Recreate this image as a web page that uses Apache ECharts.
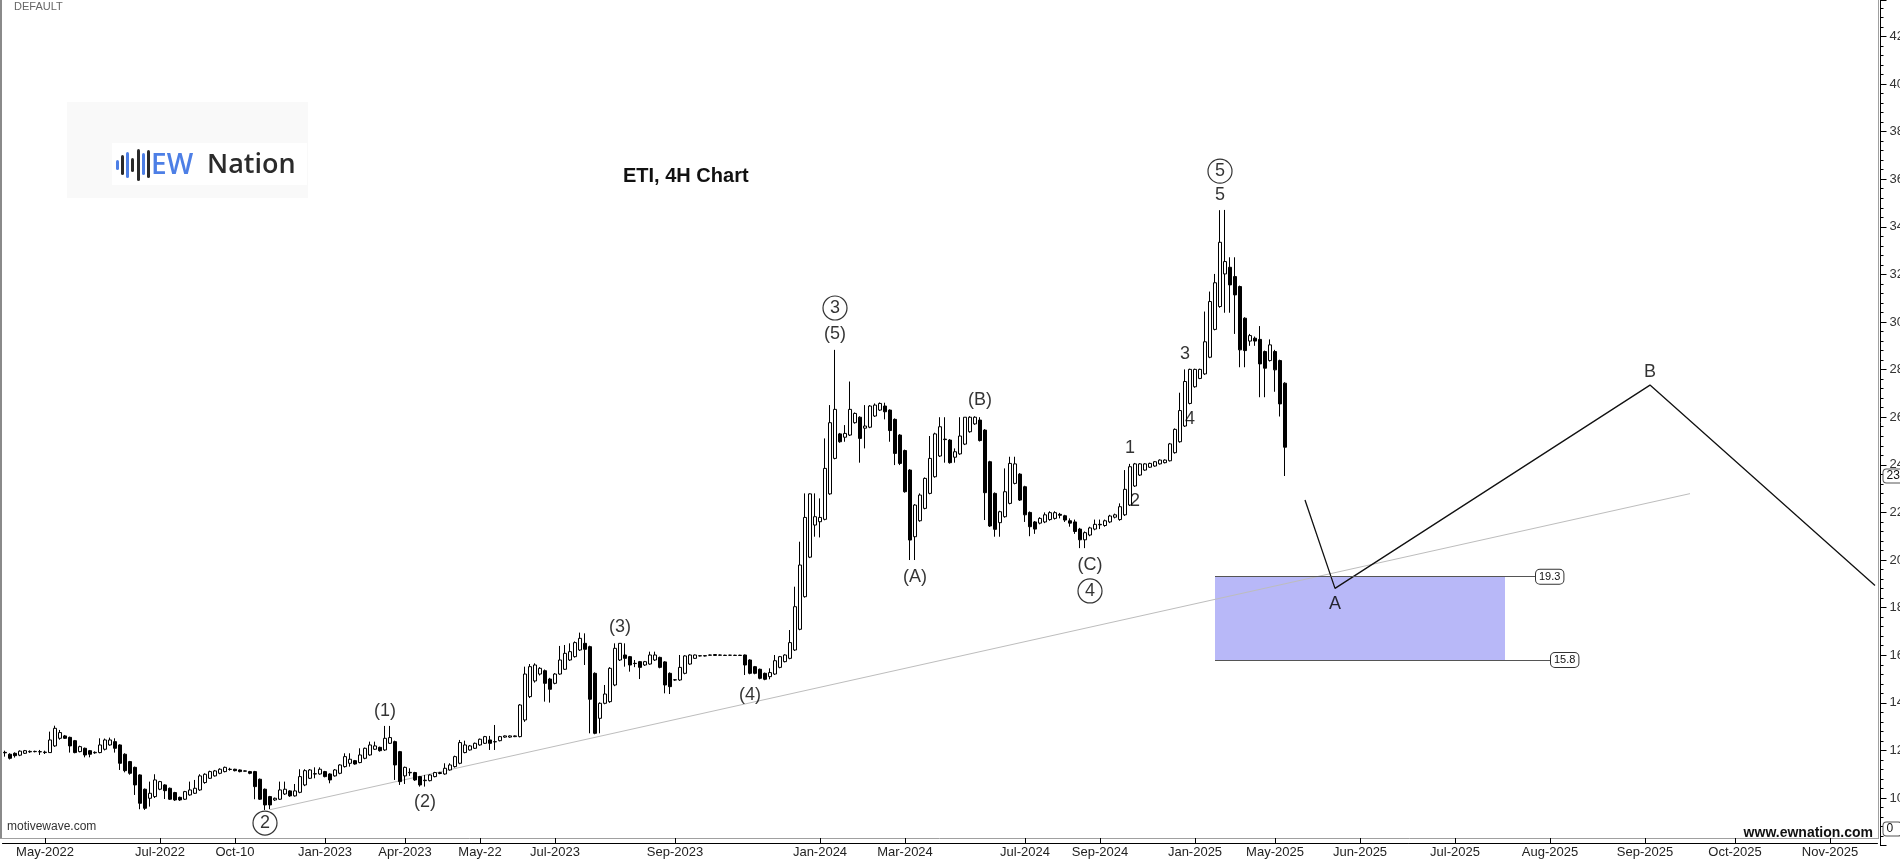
<!DOCTYPE html>
<html>
<head>
<meta charset="utf-8">
<script src="https://cdn.jsdelivr.net/npm/echarts@6/dist/echarts.min.js"></script>
<style>
html,body{margin:0;padding:0;background:#fff;}
#chart{width:1900px;height:860px;}
</style>
</head>
<body>
<div id="chart"></div>
<script>
// ---------- DATA ----------
// candles: [open, close, low, high], one per bar slot
const ohlc = [
[11.92,11.9,11.74,11.99],[11.84,11.67,11.62,11.88],[11.88,11.78,11.70,11.92],[11.80,11.97,11.76,12.0],
[11.88,11.99,11.85,12.02],[11.94,11.96,11.9,12.0],[11.95,11.96,11.92,11.99],[11.95,11.94,11.81,12.02],
[11.91,11.93,11.85,11.99],[11.91,12.44,11.9,12.79],[12.19,12.93,12.15,13.04],[12.51,12.75,12.45,12.86],
[12.61,12.51,12.48,12.65],[12.55,12.19,11.91,12.58],[12.41,11.91,11.88,12.44],[11.95,12.16,11.92,12.2],
[12.09,11.81,11.71,12.12],[11.99,11.84,11.71,12.02],[11.9,11.92,11.86,11.96],[11.91,12.23,11.88,12.51],
[12.05,12.44,12.0,12.5],[12.23,12.44,12.2,12.54],[12.37,12.09,11.91,12.51],[12.23,11.46,11.18,12.26],
[11.84,11.15,11.08,11.88],[11.53,11.04,10.98,11.56],[11.29,10.55,10.13,11.32],[10.97,9.78,9.53,11.0],
[10.37,9.57,9.5,10.4],[9.99,10.2,9.64,10.69],[10.06,10.76,10.0,11.0],[10.37,10.69,10.33,10.72],
[10.55,10.31,9.96,10.58],[10.41,9.95,9.92,10.44],[10.23,9.92,9.88,10.26],[10.03,9.92,9.88,10.06],
[9.95,10.27,9.92,10.3],[10.13,10.34,10.1,10.69],[10.2,10.41,10.17,10.76],[10.34,10.93,10.3,11.0],
[10.65,11.0,10.6,11.04],[10.83,11.11,10.8,11.15],[10.93,11.14,10.9,11.18],[11.04,11.21,11.0,11.25],
[11.11,11.29,11.08,11.32],[11.2,11.21,11.15,11.27],[11.21,11.15,11.12,11.23],[11.18,11.11,11.08,11.2],
[11.14,11.13,11.12,11.16],[11.11,11.04,11.0,11.14],[11.11,10.48,9.95,11.14],[10.79,9.95,9.92,10.82],
[10.37,9.71,9.5,10.4],[10.06,9.71,9.53,10.09],[9.92,9.99,9.88,10.02],[9.95,10.34,9.92,10.69],
[10.17,10.37,10.13,10.69],[10.3,10.09,10.05,10.33],[10.09,10.3,10.06,10.59],[10.24,10.9,10.2,11.21],
[10.55,11.15,10.5,11.21],[10.83,11.18,10.8,11.22],[11.02,11.01,10.83,11.29],[11.01,11.21,10.98,11.29],
[11.11,10.9,10.87,11.14],[11.01,10.76,10.62,11.04],[10.93,11.18,10.9,11.22],[11.04,11.39,11.0,11.42],
[11.32,11.74,11.28,11.88],[11.46,11.63,11.32,11.88],[11.57,11.43,11.4,11.6],[11.49,11.81,11.46,12.09],
[11.67,12.09,11.63,12.12],[11.81,12.23,11.78,12.37],[12.05,12.19,12.02,12.37],[12.13,11.99,11.95,12.16],
[12.02,12.51,11.98,13.03],[12.3,12.54,12.27,13.03],[12.37,11.39,10.76,12.41],[11.95,10.69,10.55,11.98],
[10.93,11.29,10.59,11.32],[11.06,11.08,10.93,11.25],[11.07,10.76,10.72,11.1],[10.9,10.55,10.48,10.93],
[10.73,10.75,10.48,10.97],[10.73,10.97,10.7,11.0],[10.9,11.07,10.87,11.1],[11.03,11.07,11.0,11.1],
[11.01,11.25,10.98,11.46],[11.18,11.39,11.15,11.46],[11.32,11.74,11.28,11.78],[11.46,12.33,11.42,12.44],
[11.91,12.23,11.88,12.41],[12.02,12.19,11.99,12.23],[12.09,12.3,12.06,12.33],[12.23,12.47,12.2,12.5],
[12.3,12.58,12.27,12.61],[12.44,12.3,12.02,12.61],[12.37,12.36,12.02,13.07],[12.41,12.58,12.38,12.61],
[12.56,12.61,12.53,12.63],[12.56,12.61,12.53,12.63],[12.58,12.61,12.56,12.63],[12.58,13.91,12.55,13.95],
[13.28,15.21,13.2,15.52],[14.26,15.52,14.2,15.63],[14.92,15.59,14.85,15.66],[15.21,15.45,15.15,15.5],
[15.35,14.82,14.05,15.4],[15.0,14.57,14.01,15.05],[14.82,15.21,14.78,15.25],[15.21,15.8,15.18,16.39],
[15.41,16.08,15.38,16.43],[15.8,16.15,15.76,16.5],[15.94,16.53,15.9,16.58],[16.22,16.71,16.18,16.95],
[16.5,16.25,15.59,16.92],[16.36,14.15,12.72,16.4],[15.24,12.72,12.68,15.28],[13.35,13.98,12.72,14.02],
[13.98,14.37,13.94,14.75],[14.05,15.45,14.0,15.5],[14.75,16.29,14.7,16.5],[15.8,16.5,15.76,16.5],
[16.01,15.87,15.52,16.5],[15.94,15.59,15.31,15.97],[15.66,15.65,15.5,15.8],[15.73,15.49,15.0,15.76],
[15.59,15.73,15.55,15.76],[15.63,16.01,15.6,16.15],[15.8,16.01,15.76,16.15],[15.91,15.49,15.45,15.94],
[15.72,14.75,14.4,15.75],[15.24,14.68,14.37,15.28],[14.96,14.97,14.93,15.0],[14.96,15.49,14.92,16.01],
[15.24,15.97,15.2,16.0],[15.63,16.01,15.6,16.04],[15.87,16.01,15.85,16.03],[15.97,15.98,15.95,16.0],
[15.98,15.97,15.95,16.0],[16.0,16.01,15.98,16.03],[15.99,16.03,15.97,16.05],[16.0,16.01,15.98,16.03],
[16.0,15.99,15.97,16.02],[16.0,16.0,15.98,16.02],[15.99,16.0,15.97,16.02],[16.0,15.99,15.97,16.02],
[16.01,15.59,15.17,16.03],[15.8,15.24,15.2,15.83],[15.52,15.24,15.2,15.55],[15.41,15.03,14.99,15.44],
[15.24,14.99,14.95,15.27],[15.1,15.27,14.99,15.45],[15.21,15.77,15.17,16.01],[15.49,15.94,15.45,15.97],
[15.73,16.01,15.7,16.04],[15.87,16.53,15.83,17.06],[16.22,18.04,16.18,18.88],[17.09,19.79,17.05,20.77],
[18.46,21.79,18.42,22.8],[20.12,22.78,20.08,22.8],[21.47,21.82,20.98,22.8],[21.61,21.79,20.95,22.59],
[21.71,23.85,21.67,25.11],[22.78,25.77,22.74,26.51],[24.27,26.33,24.23,28.83],[25.3,24.97,24.93,25.34],
[25.16,25.32,24.97,25.67],[25.25,26.33,25.21,27.5],[25.77,26.16,25.73,26.2],[26.0,25.11,24.09,26.04],
[25.54,25.63,24.69,26.51],[25.58,26.47,25.54,26.51],[26.05,26.51,26.01,26.58],[26.3,26.58,26.26,26.62],
[26.47,26.23,25.91,26.61],[26.3,25.44,24.97,26.33],[25.91,24.48,23.99,25.95],[25.25,24.06,23.99,25.29],
[24.6,22.87,22.83,24.64],[23.78,20.84,20.0,23.82],[20.98,22.31,20.0,22.35],[21.65,22.73,21.61,22.8],
[22.17,23.43,22.13,23.47],[22.8,24.27,22.76,25.21],[23.5,25.3,23.46,25.35],[24.37,25.6,24.33,26.0],
[25.08,25.06,24.09,26.0],[25.04,24.09,24.05,25.08],[24.32,24.55,24.09,24.69],[24.46,25.21,24.42,26.0],
[24.87,26.0,24.83,26.0],[25.39,26.0,25.35,26.04],[25.72,26.0,25.68,26.04],[25.88,25.02,24.98,26.0],
[25.46,22.83,21.68,25.5],[24.13,21.43,21.39,24.17],[22.8,21.29,20.98,22.84],[21.57,22.03,20.98,22.07],
[21.82,22.87,21.78,23.85],[22.38,24.06,22.34,24.34],[23.22,24.04,23.18,24.34],[23.61,22.52,22.48,23.65],
[23.08,21.9,21.6,23.12],[22.0,21.4,21.0,22.04],[21.6,21.3,21.1,21.64],[21.55,21.75,21.5,21.8],
[21.6,21.9,21.55,22.0],[21.7,21.99,21.65,22.05],[21.75,21.99,21.7,22.05],[21.92,21.88,21.75,21.98],
[21.86,21.68,21.6,21.9],[21.65,21.55,21.4,21.75],[21.6,21.2,21.1,21.7],[21.3,20.85,20.5,21.35],
[20.85,21.15,20.5,21.2],[21.05,21.35,21.0,21.4],[21.3,21.5,21.25,21.7],[21.5,21.48,21.3,21.7],
[21.45,21.65,21.4,21.7],[21.6,21.85,21.55,21.9],[21.8,21.9,21.75,21.95],[21.7,22.24,21.65,22.38],
[21.9,22.97,21.85,23.78],[22.31,23.92,22.27,24.04],[23.11,24.04,23.07,24.08],[23.57,24.04,23.53,24.07],
[23.78,24.04,23.75,24.07],[23.9,24.06,23.87,24.09],[23.95,24.13,23.92,24.16],[24.04,24.2,24.01,24.23],
[24.09,24.2,24.06,24.23],[24.17,24.88,24.14,24.92],[24.51,25.49,24.47,25.53],[24.97,26.28,24.93,27.03],
[25.63,27.5,25.59,28.01],[26.58,28.01,26.54,28.04],[27.28,28.01,27.24,28.04],[27.63,28.01,27.6,28.04],
[27.82,29.17,27.78,30.44],[28.52,30.86,28.48,31.28],[29.69,31.65,29.65,32.02],[30.65,33.35,30.6,34.7],
[32.02,32.54,30.39,34.71],[32.3,31.56,30.39,32.72],[31.91,31.14,29.5,32.72],[31.49,28.83,28.1,31.53],
[30.16,28.8,28.1,30.2],[29.2,29.43,29.0,29.5],[29.32,29.2,29.0,29.39],[29.27,28.24,26.84,29.83],
[28.76,28.06,26.84,28.8],[28.38,29.04,28.34,29.27],[28.76,27.99,27.07,28.83],[28.38,26.56,26.03,28.42],
[27.43,24.74,23.53,27.47]
];

const slotCount = 375;              // bar slots on the x axis (history + projection space)
const tickIdx = [8,31,46,64,80,95,110,134,163,180,204,219,238,254,271,290,309,328,346,365];
const tickLabels = ['May-2022','Jul-2022','Oct-10','Jan-2023','Apr-2023','May-22','Jul-2023','Sep-2023','Jan-2024','Mar-2024','Jul-2024','Sep-2024','Jan-2025','May-2025','Jun-2025','Jul-2025','Aug-2025','Sep-2025','Oct-2025','Nov-2025'];
const yMin = 8, yMax = 43.53, yStep = 2;

// wave labels
const waveText = ['(1)','(2)','(3)','(4)','(5)','(A)','(B)','(C)','1','2','3','4','5','A','B'];
const waveX    = [76,84,123,149,166,182,195,217,225,226,236,237,243,266,329];
const waveY    = [13.66,9.83,17.18,14.33,29.5,19.29,26.73,19.79,24.71,22.48,28.66,25.93,35.33,18.15,27.9];
const circText = ['2','3','4','5'];
const circX    = [52,166,217,243];
const circY    = [8.95,30.59,18.7,36.34];

// trend line & projection path
const trendX = [53,337];
const trendY = [9.51,22.79];
const projX = [260,266,329,374];
const projY = [22.52,18.81,27.35,18.93];

// target zone
const zoneX = [242,300];
const zoneTop = 19.3;
const zoneBottom = 15.8;
const zoneTopLineEnd = 306;
const zoneBottomLineEnd = 309;

// right axis price markers
const lastPrice = 23.53;
const volMarker = 8.7;
const lastPriceText = '23';
const volMarkerText = '0';

// ---------- CHART ----------
const FONT = '"Liberation Sans", Arial, sans-serif';
const categories = [];
for (let i = 0; i < slotCount; i++) categories.push('b' + i);
const labelMap = {};
tickIdx.forEach((k, j) => { labelMap[k] = tickLabels[j]; });
const isTick = (index) => labelMap[index] !== undefined;

const chart = echarts.init(document.getElementById('chart'), null, {renderer: 'canvas'});

const waveData = waveText.map((t, i) => ({value: [waveX[i], waveY[i]], name: t}));
const circData = circText.map((t, i) => ({value: [circX[i], circY[i]], name: t}));

const boxLabel = {
  show: true, position: 'end', distance: 1,
  backgroundColor: '#fff', borderColor: '#333', borderWidth: 1, borderRadius: 4,
  padding: [2, 3, 1, 3], fontSize: 11, color: '#111', fontFamily: FONT
};

const option = {
  animation: false,
  backgroundColor: '#fff',
  grid: {left: 2.5, right: 22.5, top: 0, bottom: 14.36, containLabel: false, outerBoundsMode: 'none'},
  xAxis: {
    type: 'category', data: categories, boundaryGap: true, position: 'bottom', offset: -2.64,
    axisLine: {show: true, lineStyle: {color: '#000', width: 1}},
    axisTick: {show: true, inside: true, length: 5, alignWithLabel: true, interval: (i) => isTick(i), lineStyle: {color: '#000'}},
    axisLabel: {interval: (i) => isTick(i), formatter: (v, i) => labelMap[i] || '', fontSize: 13, color: '#222', margin: 3, fontFamily: FONT},
    splitLine: {show: false}
  },
  yAxis: {
    type: 'value', position: 'right', min: yMin, max: yMax, interval: yStep, offset: 3,
    axisLine: {show: true, lineStyle: {color: '#000', width: 1}},
    axisTick: {show: true, length: 6, lineStyle: {color: '#000'}},
    minorTick: {show: true, splitNumber: 5, length: 3, lineStyle: {color: '#000'}},
    axisLabel: {fontSize: 13, color: '#333', margin: 9, fontFamily: FONT, showMinLabel: false, showMaxLabel: false},
    splitLine: {show: false}
  },
  graphic: [
    {type: 'rect', shape: {x: 0, y: 0, width: 2, height: 838}, style: {fill: '#8a8a8a'}, silent: true},
    {type: 'line', shape: {x1: 0, y1: 838.5, x2: 1879, y2: 838.5}, style: {stroke: '#a0a0a0', lineWidth: 1}, silent: true},
    {type: 'line', shape: {x1: 1878.5, y1: 0, x2: 1878.5, y2: 838}, style: {stroke: '#a0a0a0', lineWidth: 1}, silent: true},
    {type: 'text', left: 14, top: 1, style: {text: 'DEFAULT', fill: '#666', font: '11px ' + FONT}},
    {type: 'text', left: 623, top: 166, style: {text: 'ETI, 4H Chart', fill: '#111', font: 'bold 20px ' + FONT}},
    {type: 'text', left: 7, top: 821, style: {text: 'motivewave.com', fill: '#333', font: '12px ' + FONT}},
    {type: 'text', right: 27, top: 826, style: {text: 'www.ewnation.com', fill: '#111', font: 'bold 14px ' + FONT}},
    // logo
    {type: 'rect', shape: {x: 67, y: 102, width: 241, height: 96}, style: {fill: '#f9f9f9'}, silent: true},
    {type: 'rect', shape: {x: 112, y: 143, width: 195, height: 42}, style: {fill: '#ffffff'}, silent: true},
    {type: 'rect', shape: {x: 116, y: 160, width: 3, height: 10, r: 1.5}, style: {fill: '#4d7fe6'}},
    {type: 'rect', shape: {x: 121, y: 155, width: 3, height: 20, r: 1.5}, style: {fill: '#2a2a2a'}},
    {type: 'rect', shape: {x: 126, y: 152, width: 3, height: 26, r: 1.5}, style: {fill: '#4d7fe6'}},
    {type: 'rect', shape: {x: 131, y: 158, width: 3, height: 14, r: 1.5}, style: {fill: '#2a2a2a'}},
    {type: 'rect', shape: {x: 137, y: 149, width: 3, height: 32, r: 1.5}, style: {fill: '#2a2a2a'}},
    {type: 'rect', shape: {x: 142, y: 153, width: 3, height: 22, r: 1.5}, style: {fill: '#4d7fe6'}},
    {type: 'rect', shape: {x: 147, y: 150, width: 3, height: 28, r: 1.5}, style: {fill: '#2a2a2a'}},
    {type: 'text', left: 151, top: 152, style: {text: 'EW', fill: '#4d7fe6', font: '600 28px "Open Sans", ' + FONT}},
    {type: 'text', left: 207, top: 152, style: {text: 'Nation', fill: '#2b2b2b', font: '600 27px "Open Sans", ' + FONT}}
  ],
  series: [
    {
      type: 'candlestick', data: ohlc, barWidth: 3, clip: true,
      itemStyle: {color: '#fff', color0: '#000', borderColor: '#000', borderColor0: '#000', borderColorDoji: '#000', borderWidth: 1},
      markArea: {
        silent: true,
        itemStyle: {color: '#b8b8f8', opacity: 1},
        data: [[{coord: [zoneX[0], zoneTop]}, {coord: [zoneX[1], zoneBottom]}]]
      },
      markLine: {
        silent: true, symbol: ['none', 'none'],
        lineStyle: {color: '#555', width: 1, type: 'solid'},
        data: [
          [{coord: [zoneX[0], zoneTop], label: Object.assign({}, boxLabel, {formatter: String(zoneTop)})}, {coord: [zoneTopLineEnd, zoneTop]}],
          [{coord: [zoneX[0], zoneBottom], label: Object.assign({}, boxLabel, {formatter: String(zoneBottom)})}, {coord: [zoneBottomLineEnd, zoneBottom]}]
        ]
      }
    },
    {
      type: 'line', data: trendX.map((x, i) => [x, trendY[i]]), symbol: 'none',
      lineStyle: {color: '#bdbdbd', width: 1}, z: 1, silent: true
    },
    {
      type: 'line', data: projX.map((x, i) => [x, projY[i]]), symbol: 'none',
      lineStyle: {color: '#111', width: 1.3}, z: 3, silent: true
    },
    {
      type: 'scatter', data: waveData, symbol: 'circle', symbolSize: 2,
      itemStyle: {color: 'rgba(0,0,0,0)'}, silent: true, z: 5,
      label: {show: true, position: 'inside', formatter: (p) => p.name, fontSize: 18, color: '#000', fontFamily: FONT}
    },
    {
      type: 'scatter', data: circData, symbol: 'circle', symbolSize: 24,
      itemStyle: {color: 'rgba(255,255,255,0)', borderColor: '#000', borderWidth: 1.2}, silent: true, z: 5,
      label: {show: true, position: 'inside', formatter: (p) => p.name, fontSize: 18, color: '#000', fontFamily: FONT}
    },
    {
      type: 'line', data: [], clip: false, silent: true,
      markLine: {
        silent: true, symbol: ['none', 'none'],
        lineStyle: {color: 'rgba(0,0,0,0)', width: 0},
        label: {show: true, position: 'end', distance: 6, backgroundColor: '#fff', borderColor: '#555', borderWidth: 1, borderRadius: 3, padding: [1, 8, 0, 3], fontSize: 12, color: '#111', fontFamily: FONT},
        data: [
          {yAxis: lastPrice, label: {formatter: lastPriceText}},
          {yAxis: volMarker, label: {formatter: volMarkerText}}
        ]
      }
    }
  ]
};
chart.setOption(option);
</script>
</body>
</html>
